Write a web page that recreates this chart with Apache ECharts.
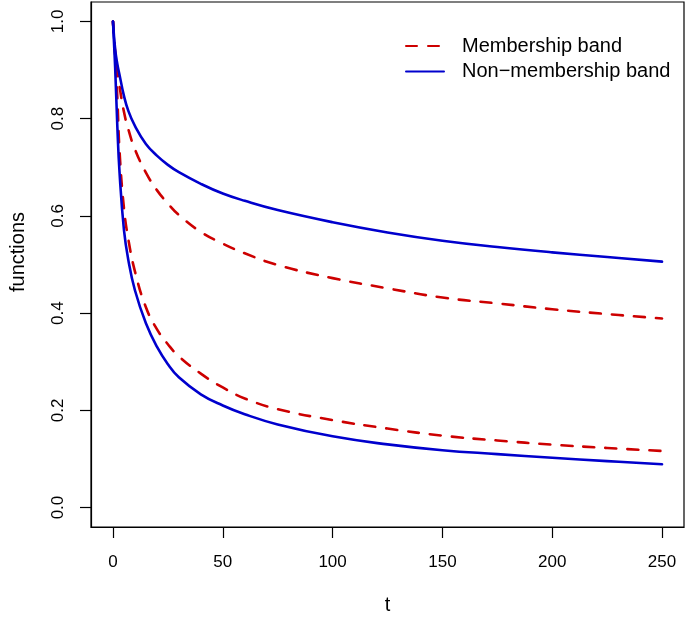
<!DOCTYPE html>
<html>
<head>
<meta charset="utf-8">
<script src="https://cdn.jsdelivr.net/npm/echarts@6/dist/echarts.min.js"></script>
<style>
  html, body { margin: 0; padding: 0; background: #fff; }
  #chart { width: 685px; height: 617px; }
</style>
</head>
<body>
<div id="chart"></div>
<script>
// ---- data ----
var tValues = [0, 1, 2, 3, 5, 7, 10, 15, 20, 25, 30, 40, 50, 60, 75, 100, 125, 150, 175, 200, 225, 250];
var memberUpper    = [1.0, 0.936, 0.898, 0.866, 0.814, 0.778, 0.737, 0.689, 0.653, 0.6255, 0.602, 0.567, 0.543, 0.523, 0.499, 0.472, 0.451, 0.432, 0.420, 0.408, 0.398, 0.389];
var memberLower    = [1.0, 0.93, 0.842, 0.733, 0.616, 0.552, 0.486, 0.412, 0.367, 0.336, 0.311, 0.2755, 0.247, 0.2245, 0.2025, 0.180, 0.1625, 0.148, 0.138, 0.1295, 0.1225, 0.1165];
var nonMemberUpper = [1.0, 0.943, 0.912, 0.890, 0.847, 0.816, 0.785, 0.748, 0.724, 0.705, 0.690, 0.666, 0.646, 0.631, 0.612, 0.587, 0.566, 0.549, 0.536, 0.525, 0.5155, 0.506];
var nonMemberLower = [1.0, 0.905, 0.783, 0.689, 0.571, 0.509, 0.447, 0.379, 0.331, 0.295, 0.268, 0.233, 0.210, 0.192, 0.171, 0.1465, 0.130, 0.118, 0.110, 0.1025, 0.0955, 0.089];
var xTicks = [0, 50, 100, 150, 200, 250];
var yTicks = [0.0, 0.2, 0.4, 0.6, 0.8, 1.0];
var seriesNames = ['Membership band', 'Non\u2212membership band'];
var xTitle = 't';
var yTitle = 'functions';

function pairs(vals) {
  return tValues.map(function (t, i) { return [t, vals[i]]; });
}

var FONT = 'Liberation Sans, Arial, Helvetica, sans-serif';
var RED = '#CD0000';
var BLUE = '#0000CD';

var dashedStyle = { color: RED, width: 2.6, type: [11, 11], cap: 'round', join: 'round' };
var solidStyle = { color: BLUE, width: 2.6, type: 'solid', cap: 'round', join: 'round' };

function lineSeries(name, vals, style, color, z) {
  return {
    name: name, type: 'line', data: pairs(vals),
    showSymbol: false, symbol: 'none',
    smooth: 0.45,
    lineStyle: style, itemStyle: { color: color }, z: z
  };
}

var chart = echarts.init(document.getElementById('chart'), null, { renderer: 'canvas' });
chart.setOption({
  animation: false,
  backgroundColor: '#ffffff',
  textStyle: { fontFamily: FONT, color: '#000' },
  grid: {
    left: 91, right: 1, top: 2, bottom: 90,
    outerBoundsMode: 'none',
    containLabel: false,
    show: true, borderColor: '#000', borderWidth: 1.2, backgroundColor: 'transparent'
  },
  legend: {
    orient: 'vertical',
    left: 405,
    top: 36,
    padding: 0,
    itemWidth: 38,
    itemHeight: 20,
    itemGap: 5.5,
    data: seriesNames,
    itemStyle: { opacity: 0 },
    textStyle: { fontFamily: FONT, fontSize: 20, color: '#000', padding: [0, 0, 0, 13] },
    selectedMode: false
  },
  graphic: [
    {
      type: 'text',
      x: 18, y: 252,
      rotation: Math.PI / 2,
      style: { text: yTitle, fontFamily: FONT, fontSize: 20, fill: '#000', align: 'center', verticalAlign: 'middle' }
    }
  ],
  xAxis: {
    type: 'value',
    min: -10, max: 260,
    name: xTitle,
    nameLocation: 'middle',
    nameGap: 68,
    nameTextStyle: { fontFamily: FONT, fontSize: 20, color: '#000' },
    axisLine: { show: true, onZero: false, lineStyle: { color: '#000', width: 1.2 } },
    axisTick: { show: true, inside: false, length: 11, lineStyle: { color: '#000', width: 1.2 }, customValues: xTicks },
    axisLabel: { show: true, margin: 27, fontFamily: FONT, fontSize: 17, color: '#000', customValues: xTicks,
      formatter: function (v) { return String(v); } },
    splitLine: { show: false }
  },
  yAxis: {
    type: 'value',
    min: -0.04, max: 1.04,
    axisLine: { show: true, onZero: false, lineStyle: { color: '#000', width: 1.2 } },
    axisTick: { show: true, inside: false, length: 11, lineStyle: { color: '#000', width: 1.2 }, customValues: yTicks },
    axisLabel: { show: true, margin: 24, rotate: 90, fontFamily: FONT, fontSize: 17, color: '#000', customValues: yTicks,
      formatter: function (v) { return v.toFixed(1); } },
    splitLine: { show: false }
  },
  series: [
    lineSeries(seriesNames[0], memberUpper, dashedStyle, RED, 2),
    lineSeries(seriesNames[0], memberLower, dashedStyle, RED, 2),
    lineSeries(seriesNames[1], nonMemberUpper, solidStyle, BLUE, 3),
    lineSeries(seriesNames[1], nonMemberLower, solidStyle, BLUE, 3)
  ]
});
</script>
</body>
</html>
